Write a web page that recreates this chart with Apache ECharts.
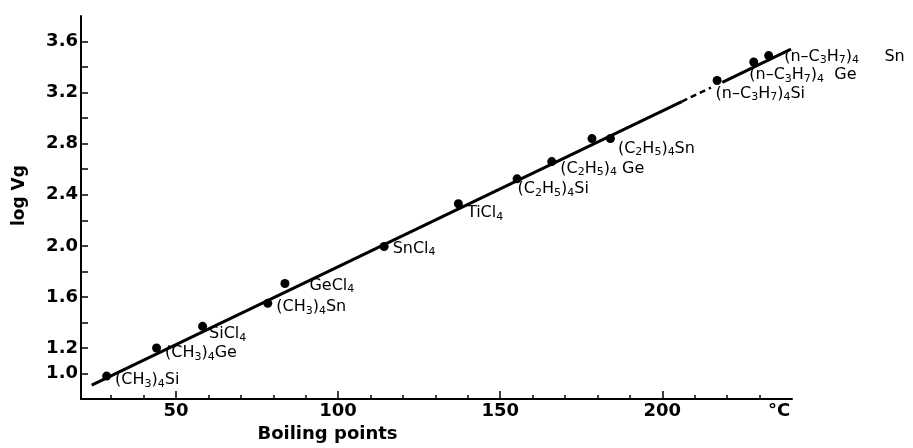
<!DOCTYPE html>
<html><head><meta charset="utf-8">
<script src="https://cdn.jsdelivr.net/npm/echarts@6/dist/echarts.min.js"></script>
<style>html,body{margin:0;padding:0;background:#fff}#c{width:913px;height:448px}</style>
</head><body><div id="c"></div>
<script>
// ---- data ----
const compounds = ['(CH_3)_4Si','(CH_3)_4Ge','SiCl_4','(CH_3)_4Sn','GeCl_4','SnCl_4','TiCl_4',
  '(C_2H_5)_4Si','(C_2H_5)_4 Ge','','(C_2H_5)_4Sn','(n–C_3H_7)_4Si','(n–C_3H_7)_4  Ge','(n–C_3H_7)_4     Sn'];
const boilingPoints = [28.6, 44.0, 58.2, 78.3, 83.6, 114.2, 137.1, 155.2, 165.9, 178.3, 184.0, 216.9, 228.2, 232.8];
const logVg = [0.98, 1.20, 1.37, 1.55, 1.705, 1.995, 2.33, 2.525, 2.66, 2.84, 2.84, 3.295, 3.44, 3.49];
const fitLineA = [[24, 0.91], [206, 3.13]];
const fitLineDashed = [[206, 3.13], [215, 3.24]];
const fitLineB = [[218.5, 3.28], [239.7, 3.54]];
const xMinorTicks = [30,40,50,60,70,80,90,100,110,120,130,140,150,160,170,180,190,200,210,220,230];
const xMajorTicks = [50,100,150,200];
const xTickLabels = [50,100,150,200];
const xUnitAt = [236];
const xUnitLabel = '°C';
const yTicks = [1.0,1.2,1.4,1.6,1.8,2.0,2.2,2.4,2.6,2.8,3.0,3.2,3.4,3.6];
const yTickLabels = [1.0,1.2,1.6,2.0,2.4,2.8,3.2,3.6];
const xTitle = 'Boiling points';
const yTitle = 'log Vg';

// ---- styles ----
const labelOffsets = [[4,4],[4,5],[2,8],[4,4],[20,2],[4,2],[4,9],[-4,10],[4,7],[0,0],[3,10],[-6,13],[-9,13],[11,1]];
const FONT = 'DejaVu Sans';

function toRich(s){
  let out='', buf='';
  for(let i=0;i<s.length;i++){
    if(s[i]==='_'){ if(buf){out+='{t|'+buf+'}';buf='';} out+='{s|'+s[i+1]+'}'; i++; }
    else buf+=s[i];
  }
  if(buf) out+='{t|'+buf+'}';
  return out;
}

const chart = echarts.init(document.getElementById('c'), null, {renderer:'canvas'});
const XMIN = 20.7, XMAX = 240, YMIN = 0.8, YMAX = 3.8;
const axisTextBase = {color:'#000', fontFamily:FONT, fontWeight:'bold'};

chart.setOption({
  animation:false,
  backgroundColor:'#fff',
  grid:{left:81, right:121, top:16, bottom:43},
  xAxis:[{
    type:'value', min:XMIN, max:XMAX,
    axisLine:{show:true, onZero:false, lineStyle:{color:'#000', width:2}},
    axisTick:{show:true, inside:true, length:4, customValues:xMinorTicks, lineStyle:{color:'#000', width:1.5}},
    axisLabel:{customValues:xTickLabels, margin:3, fontSize:18, ...axisTextBase},
    splitLine:{show:false}
  },{
    type:'value', min:XMIN, max:XMAX, position:'bottom',
    axisLine:{show:false},
    axisTick:{show:true, inside:true, length:8, customValues:xMajorTicks, lineStyle:{color:'#000', width:1.5}},
    axisLabel:{customValues:xUnitAt, formatter:()=>xUnitLabel, margin:3, fontSize:18, ...axisTextBase},
    splitLine:{show:false},
    name:xTitle, nameLocation:'middle', nameGap:25,
    nameTextStyle:{fontSize:18, ...axisTextBase, padding:[0,218,0,0]}
  }],
  yAxis:{
    type:'value', min:YMIN, max:YMAX,
    axisLine:{show:true, onZero:false, lineStyle:{color:'#000', width:2}},
    axisTick:{show:true, inside:true, length:7, customValues:yTicks, lineStyle:{color:'#000', width:1.5}},
    axisLabel:{customValues:yTickLabels, formatter:v=>Number(v).toFixed(1), margin:3, fontSize:18, ...axisTextBase},
    splitLine:{show:false},
    name:yTitle, nameLocation:'middle', nameGap:53,
    nameTextStyle:{fontSize:17, ...axisTextBase, padding:[0,0,0,24]}
  },
  series:[
    {type:'line', data:fitLineA, showSymbol:false, lineStyle:{color:'#000', width:3}, z:2},
    {type:'line', data:fitLineDashed, showSymbol:false, lineStyle:{color:'#000', width:2.5, type:[6,4]}, z:2},
    {type:'line', data:fitLineB, showSymbol:false, lineStyle:{color:'#000', width:3}, z:2},
    {type:'scatter', symbol:'circle', symbolSize:9, itemStyle:{color:'#000', opacity:1}, z:3,
     data:boilingPoints.map((x,i)=>({value:[x, logVg[i]], label:{show:compounds[i]!=='', offset:labelOffsets[i]}})),
     label:{position:'right', distance:0, color:'#000',
       formatter:p=>toRich(compounds[p.dataIndex]),
       rich:{
         t:{fontSize:16, fontFamily:FONT, color:'#000'},
         s:{fontSize:11, fontFamily:FONT, color:'#000', padding:[8,0,0,0]}
       }}
    }
  ]
});
</script></body></html>
